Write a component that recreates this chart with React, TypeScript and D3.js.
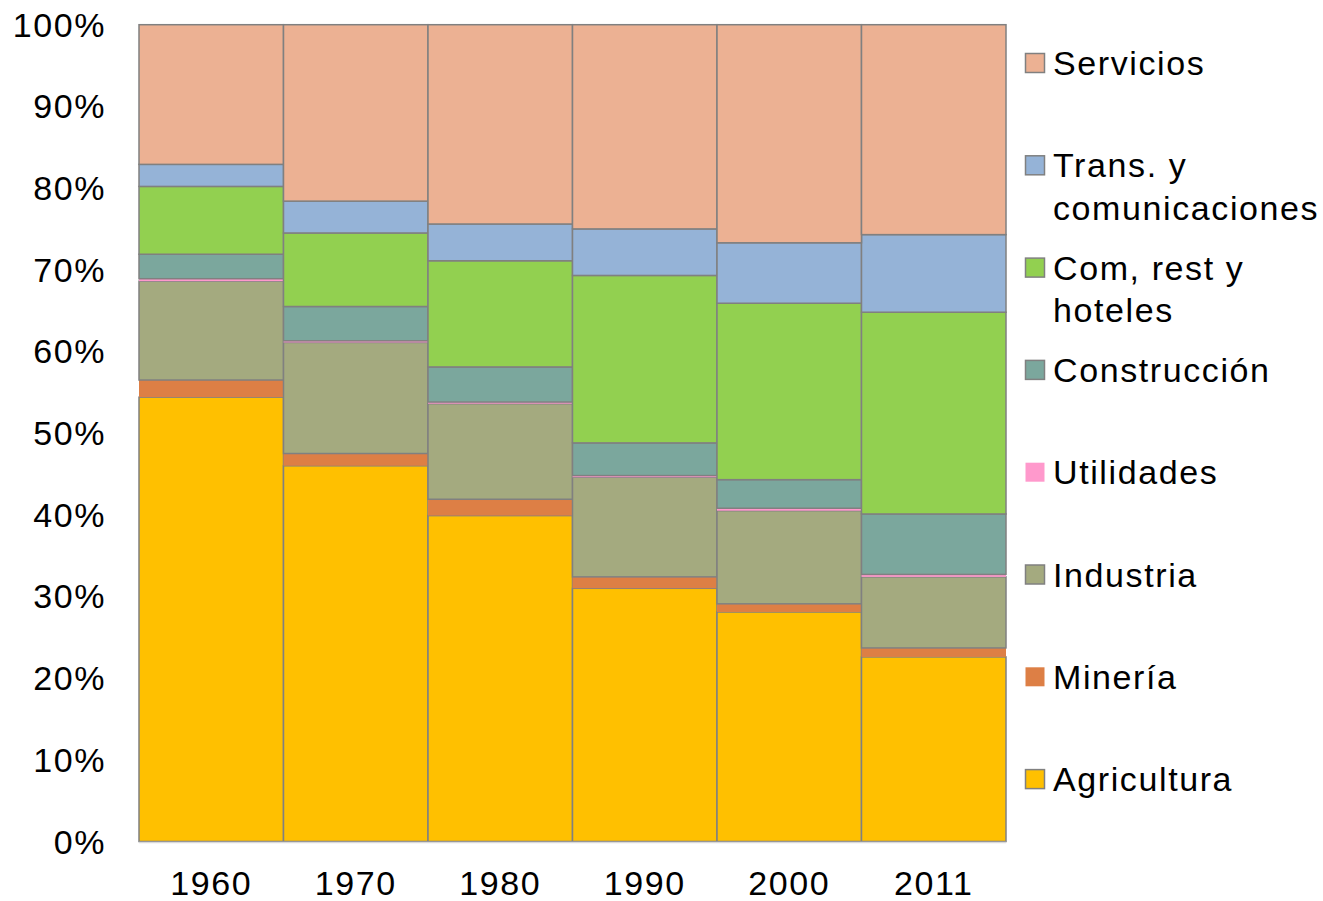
import React from "react";
import { scaleBand, scaleLinear, stack } from "d3";

// decades shown on the x axis
const years = ["1960", "1970", "1980", "1990", "2000", "2011"];

// share of each sector (%), bottom to top
const agricultura = [54.4, 46.0, 39.9, 31.0, 28.1, 22.6];
const mineria = [2.1, 1.5, 2.0, 1.4, 1.0, 1.1];
const industria = [12.1, 13.6, 11.7, 12.2, 11.4, 8.7];
const utilidades = [0.3, 0.2, 0.2, 0.2, 0.3, 0.3];
const construccion = [3.0, 4.2, 4.3, 4.0, 3.5, 7.4];
const comercio = [8.3, 9.0, 13.0, 20.5, 21.6, 24.7];
const transporte = [2.7, 3.9, 4.5, 5.7, 7.4, 9.5];
const servicios = [17.1, 21.6, 24.4, 25.0, 26.7, 25.7];

const yTicks = [0, 10, 20, 30, 40, 50, 60, 70, 80, 90, 100];

const series = [
  { key: "agri", label: ["Agricultura"], values: agricultura, color: "#FFC000", outline: true },
  { key: "min", label: ["Minería"], values: mineria, color: "#DD7F45", outline: false },
  { key: "ind", label: ["Industria"], values: industria, color: "#A4AA7F", outline: true },
  { key: "util", label: ["Utilidades"], values: utilidades, color: "#FF99CC", outline: false },
  { key: "cons", label: ["Construcción"], values: construccion, color: "#7BA79D", outline: true },
  { key: "com", label: ["Com, rest y", "hoteles"], values: comercio, color: "#92D050", outline: true },
  { key: "trans", label: ["Trans. y", "comunicaciones"], values: transporte, color: "#95B3D7", outline: true },
  { key: "serv", label: ["Servicios"], values: servicios, color: "#ECB193", outline: true },
];

const font = "'Liberation Sans', Arial, sans-serif";
const fontSize = 34;
const spacing = 1.6;

export default function App() {
  const width = 1323;
  const height = 901;
  const plot = { left: 139, right: 1006, top: 24.7, bottom: 841.5 };

  const x = scaleBand().domain(years).range([plot.left, plot.right]).padding(0);
  const y = scaleLinear().domain([0, 100]).range([plot.bottom, plot.top]);

  const rows = years.map((yr, i) => {
    const row: any = { year: yr };
    series.forEach((s) => (row[s.key] = s.values[i]));
    return row;
  });
  const layers = stack().keys(series.map((s) => s.key))(rows);

  // legend is listed top to bottom in reverse order of the stack
  const legendItems = [...series].reverse();

  return (
    <svg
      width={width}
      height={height}
      style={{ position: "absolute", left: 0, top: 0, background: "#fff" }}
    >
      {layers.map((layer, li) => {
        const s = series[li];
        return (
          <g key={s.key}>
            {layer.map((d: any, i: number) => (
              <rect
                key={i}
                x={x(years[i])}
                y={y(d[1])}
                width={x.bandwidth()}
                height={y(d[0]) - y(d[1])}
                fill={s.color}
                stroke={s.outline ? "#808080" : "none"}
                strokeWidth={1.5}
              />
            ))}
          </g>
        );
      })}

      <line
        x1={plot.left}
        x2={plot.right}
        y1={plot.bottom + 1}
        y2={plot.bottom + 1}
        stroke="#d9d9d9"
        strokeWidth={1.5}
      />

      {yTicks.map((t) => (
        <text
          key={t}
          x={106}
          y={y(t)}
          textAnchor="end"
          dominantBaseline="central"
          fontFamily={font}
          fontSize={fontSize}
          letterSpacing={spacing}
          fill="#000"
        >
          {t}%
        </text>
      ))}

      {years.map((yr) => (
        <text
          key={yr}
          x={(x(yr) as number) + x.bandwidth() / 2}
          y={883}
          textAnchor="middle"
          dominantBaseline="central"
          fontFamily={font}
          fontSize={fontSize}
          letterSpacing={spacing}
          fill="#000"
        >
          {yr}
        </text>
      ))}

      {legendItems.map((s, i) => {
        const cy = 63 + i * 102.3;
        return (
          <g key={s.key}>
            <rect
              x={1025.5}
              y={cy - 9.5}
              width={19}
              height={19}
              fill={s.color}
              stroke={s.outline ? "#808080" : "none"}
              strokeWidth={1.5}
            />
            {s.label.map((line, j) => (
              <text
                key={j}
                x={1053}
                y={cy + j * 42.5}
                dominantBaseline="central"
                fontFamily={font}
                fontSize={fontSize}
                letterSpacing={spacing}
                fill="#000"
              >
                {line}
              </text>
            ))}
          </g>
        );
      })}
    </svg>
  );
}
